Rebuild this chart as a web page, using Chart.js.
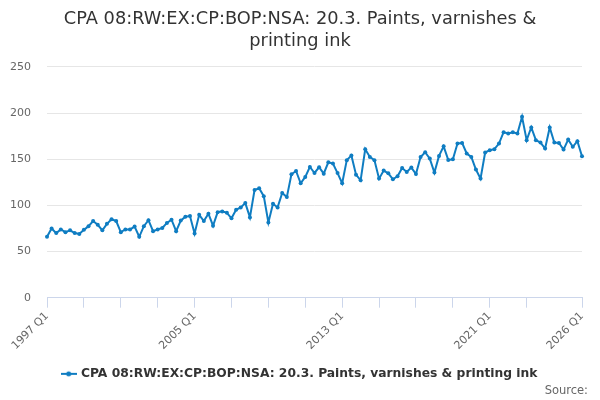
<!DOCTYPE html>
<html>
<head>
<meta charset="utf-8">
<title>CPA 08:RW:EX:CP:BOP:NSA: 20.3. Paints, varnishes &amp; printing ink</title>
<script src="https://cdn.jsdelivr.net/npm/chart.js@4/dist/chart.umd.min.js"></script>
<style>
    html, body { margin: 0; padding: 0; background: #fff; }
    #wrap { position: relative; width: 600px; height: 400px; }
    #source {
        position: absolute; right: 12px; top: 383px;
        font: 11.5px "DejaVu Sans", sans-serif; color: #666;
    }
</style>
</head>
<body>
<div id="wrap">
    <canvas id="mainChart" width="600" height="400"></canvas>
    <div id="source">Source:</div>
</div>
<script>
// ---------------------------------------------------------
// ข้อมูล: ไตรมาส 1997 Q1 - 2026 Q1
// ---------------------------------------------------------
const startYear = 1997;
const endYear = 2026;

const quarterLabels = [];
for (let y = startYear; y <= endYear; y++) {
    for (let q = 1; q <= 4; q++) {
        if (y === endYear && q > 1) break;
        quarterLabels.push(y + ' Q' + q);
    }
}

// ป้ายแกน X ที่แสดง
const shownLabels = ['1997 Q1', '2005 Q1', '2013 Q1', '2021 Q1', '2026 Q1'];

const seriesName = 'CPA 08:RW:EX:CP:BOP:NSA: 20.3. Paints, varnishes & printing ink';

// ค่าที่อ่านจากกราฟ (ทีละไตรมาส)
const seriesValues = [
    66, 75, 70, 74, 71, 73, 70, 69, 73.5, 77.5,
    83, 79, 73, 80, 85, 83, 71, 74, 74, 77,
    66, 77.5, 84, 72, 74, 75.5, 81, 84.5, 72, 83.5,
    87.7, 88.4, 69.6, 89.8, 83, 91, 78, 92.7, 93.5, 92,
    86, 95.3, 97.8, 102.5, 87, 116.7, 118.5, 110, 81.5, 101.8,
    97.8, 113.4, 109, 133.7, 137.3, 124, 130.8, 141.7, 135.1, 141.3,
    134.4, 146.7, 145.3, 135, 124, 149, 154, 133.3, 127.2, 160.9,
    152.5, 148.9, 129, 137.7, 134.8, 128.3, 131.5, 140.5, 136.2, 141,
    134, 152.5, 157.6, 150.7, 135.5, 153.6, 164, 149.3, 150, 167,
    167.7, 156.2, 152.5, 138.8, 129, 157.3, 159.8, 160.9, 167, 179.3,
    177.9, 179.3, 177.9, 196, 170.7, 184.4, 170.7, 168.1, 161.6, 184.4,
    168.1, 167.7, 160.5, 171.4, 163.4, 169.6, 153.3
];

const yTicks = [0, 50, 100, 150, 200, 250];

const lineColor = '#0f7dc2';
const axisColor = '#ccd6eb';
const fontFamily = '"DejaVu Sans", sans-serif';

// สัญลักษณ์ legend: เส้น + จุด
function makeLegendSymbol() {
    const c = document.createElement('canvas');
    c.width = 16; c.height = 8;
    const g = c.getContext('2d');
    g.strokeStyle = lineColor;
    g.lineWidth = 2;
    g.beginPath(); g.moveTo(0, 4); g.lineTo(16, 4); g.stroke();
    g.fillStyle = lineColor;
    g.beginPath(); g.arc(8, 4, 2.5, 0, Math.PI * 2); g.fill();
    return c;
}
const legendSymbol = makeLegendSymbol();

// ขีดแกน X ทุก 8 ไตรมาส (ไม่ชิดจุดสุดท้ายเกินไป) + จุดสุดท้าย
function hasTickMark(i) {
    const last = quarterLabels.length - 1;
    return (i % 8 === 0 && i + 8 <= last) || i === last;
}

const ctx = document.getElementById('mainChart').getContext('2d');
new Chart(ctx, {
    type: 'line',
    data: {
        labels: quarterLabels,
        datasets: [{
            label: seriesName,
            data: seriesValues,
            borderColor: lineColor,
            backgroundColor: lineColor,
            borderWidth: 2,
            pointRadius: 2,
            pointBorderWidth: 0,
            pointBackgroundColor: lineColor,
            tension: 0
        }]
    },
    options: {
        responsive: false,
        animation: false,
        // padding ซ้าย/ขวาเท่ากัน เพื่อให้ title และ legend อยู่กึ่งกลาง
        layout: { padding: { left: 2, right: 2, top: 0, bottom: 10 } },
        plugins: {
            title: {
                display: true,
                text: ['CPA 08:RW:EX:CP:BOP:NSA: 20.3. Paints, varnishes &', 'printing ink'],
                color: '#333',
                font: { family: fontFamily, size: 17.8, weight: 'normal', lineHeight: 1.22 },
                padding: { top: 9, bottom: 14.5 }
            },
            legend: {
                position: 'bottom',
                labels: {
                    color: '#333',
                    font: { family: fontFamily, size: 12.3, weight: 'bold' },
                    usePointStyle: true,
                    pointStyle: legendSymbol,
                    padding: 10
                }
            },
            tooltip: { enabled: false }
        },
        scales: {
            x: {
                type: 'category',
                offset: false,
                border: { display: true, color: axisColor, width: 1 },
                grid: {
                    display: true,
                    drawOnChartArea: false,
                    drawTicks: true,
                    tickLength: 10,
                    tickColor: function(c) {
                        return hasTickMark(c.index) ? axisColor : 'rgba(0,0,0,0)';
                    }
                },
                afterFit: function(scale) {
                    // ความสูงแกน X คงที่, ไม่เว้นซ้าย, เว้นขวาให้ขอบกราฟอยู่ที่ x = 582
                    scale.height = 60;
                    scale.paddingLeft = 0;
                    scale.paddingRight = 18;
                },
                ticks: {
                    autoSkip: false,
                    minRotation: 45,
                    maxRotation: 45,
                    color: '#666',
                    font: { family: fontFamily, size: 11 },
                    padding: 2,
                    callback: function(value, index) {
                        const lbl = quarterLabels[index];
                        return shownLabels.includes(lbl) ? lbl : '';
                    }
                }
            },
            y: {
                min: yTicks[0],
                max: yTicks[yTicks.length - 1],
                border: { display: false },
                grid: { color: '#e6e6e6', drawTicks: false },
                afterBuildTicks: function(axis) {
                    axis.ticks = yTicks.map(v => ({ value: v }));
                },
                afterFit: function(scale) {
                    // ให้พื้นที่กราฟเริ่มที่ x = 47
                    scale.width = 45;
                },
                ticks: {
                    color: '#666',
                    font: { family: fontFamily, size: 11 },
                    padding: 16
                }
            }
        }
    }
});
</script>
</body>
</html>
